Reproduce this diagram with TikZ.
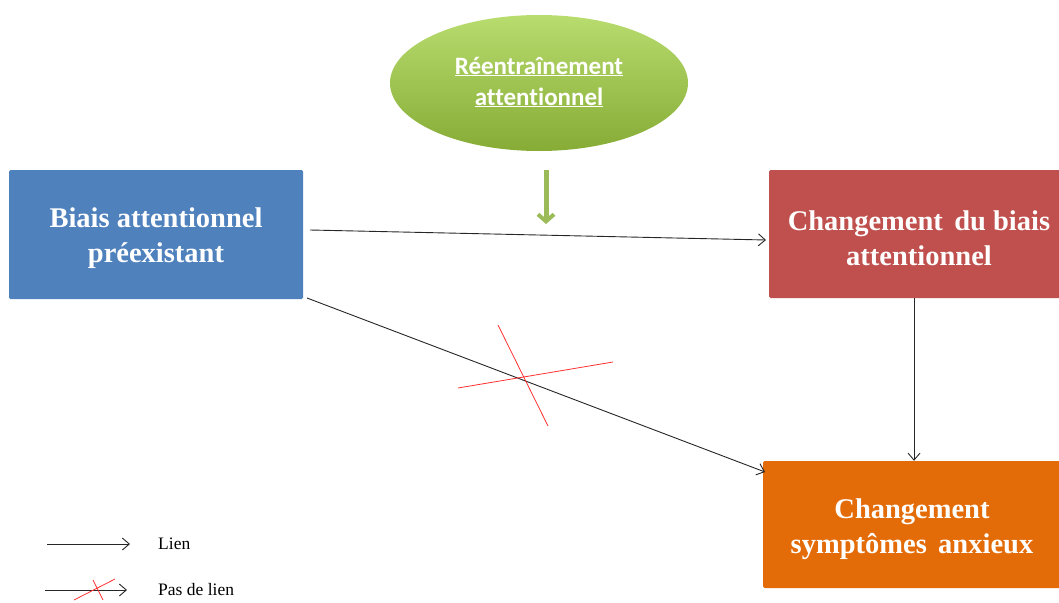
\documentclass[tikz,border=0pt]{standalone}
\usepackage{fontspec}
\setmainfont{Liberation Serif}
\newfontfamily\calib[Ligatures=NoCommon]{Carlito}
\usetikzlibrary{arrows.meta,shapes.geometric,positioning}
\definecolor{boxblue}{HTML}{4F81BD}
\definecolor{boxred}{HTML}{C0504D}
\definecolor{boxorange}{HTML}{E36C09}
\definecolor{gtop}{HTML}{B8DC6E}
\definecolor{gbot}{HTML}{86AC36}
\definecolor{garrow}{HTML}{9BBB59}
\definecolor{crossred}{HTML}{FF3030}
\tikzset{
  mainbox/.style={rectangle, rounded corners=1.5pt, inner sep=0pt},
  maintext/.style={inner sep=0pt, text=white,
    font=\fontsize{28.5}{35}\selectfont\bfseries, align=center},
  link/.style={draw=black!85, line width=0.9pt, -{Straight Barb[length=7pt,width=12pt]}},
  cross/.style={draw=crossred, line width=0.8pt},
  legtext/.style={anchor=west, font=\fontsize{17.5}{20}\selectfont, inner sep=0pt}
}
\begin{document}
\begin{tikzpicture}[x=1pt,y=-1pt]
\useasboundingbox (0,0) rectangle (1059,602);
% boxes
\node[mainbox, fill=boxblue, minimum width=294pt, minimum height=129pt] (biais) at (156,234.5) {};
\node[maintext] (biaistext) at ([yshift=-4pt]biais.center) {Biais attentionnel\\préexistant};
\node[mainbox, fill=boxred, minimum width=292pt, minimum height=128pt] (chgbiais) at (915,234) {};
\node[maintext] (chgbiaistext) at ([xshift=4pt,yshift=-4pt]chgbiais.center) {Changement\hspace{0.15em} du biais\\attentionnel};
\node[mainbox, fill=boxorange, minimum width=298pt, minimum height=127pt] (sympt) at (912,524.5) {};
\node[maintext] (sympttext) at ([yshift=-5pt]sympt.center) {Changement\\symptômes\hspace{0.15em} anxieux};
% ellipse
\node[ellipse, top color=gtop, bottom color=gbot, draw=none, minimum width=298pt, minimum height=136pt, inner sep=0pt] (reent) at (539,83) {};
\node[text=white, font=\calib\fontsize{25}{31}\selectfont\bfseries, align=center] (reenttext) at ([yshift=1pt]reent.center) {\underline{Réentraînement}\\\underline{attentionnel}};
% green arrow
\coordinate (gs) at (546,170);
\coordinate (ge) at (546,224);
\draw[draw=garrow, line width=5pt, -{Straight Barb[length=7pt,width=16pt,line width=4pt]}] (gs) -- (ge);
% connectors
\coordinate (a1s) at (310,230);
\coordinate (a1e) at (766,240);
\draw[link] (a1s) -- (a1e);
\coordinate (a2s) at (307,298);
\coordinate (a2e) at (765,472);
\draw[link] (a2s) -- (a2e);
\draw[link] (chgbiais.south -| 914,0) -- (sympt.north -| 914,0);
% cross
\coordinate (c1a) at (458,388);
\coordinate (c1b) at (613,362);
\coordinate (c2a) at (498,325);
\coordinate (c2b) at (548,426);
\draw[cross] (c1a) -- (c1b);
\draw[cross] (c2a) -- (c2b);
% legend
\coordinate (l1s) at (47,544);
\coordinate (l1e) at (130,544);
\draw[link] (l1s) -- (l1e);
\node[legtext] (lien) at (158,544) {Lien};
\coordinate (l2s) at (45,590);
\coordinate (l2e) at (127,590);
\draw[link] (l2s) -- (l2e);
\coordinate (lc1a) at (74,600);
\coordinate (lc1b) at (115,579);
\coordinate (lc2a) at (93,580);
\coordinate (lc2b) at (103,600);
\draw[cross] (lc1a) -- (lc1b);
\draw[cross] (lc2a) -- (lc2b);
\node[legtext] (paslien) at (158,590) {Pas de lien};
\end{tikzpicture}
\end{document}
